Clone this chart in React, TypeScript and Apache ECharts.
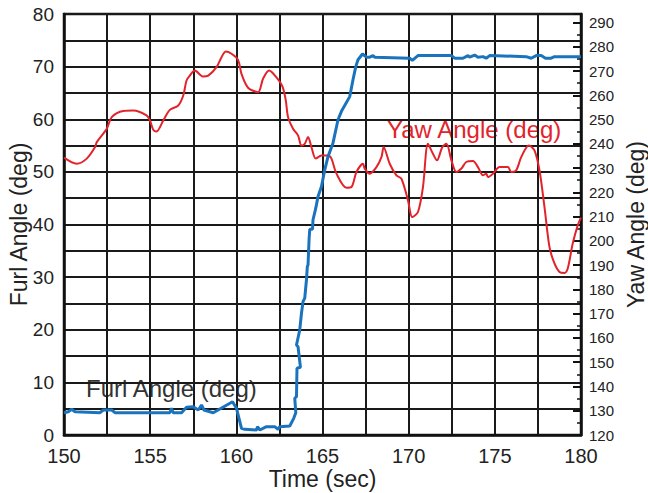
import React, { useEffect, useRef } from "react";
import * as echarts from "echarts";

const yawTime = [150.0, 150.74, 151.32, 151.8, 151.9, 152.48, 152.77, 153.44, 154.02, 154.79, 154.99, 155.18, 155.37, 155.76, 156.14, 156.63, 156.92, 157.11, 157.3, 157.59, 158.08, 158.37, 158.85, 159.14, 159.39, 159.72, 160.1, 160.3, 160.68, 161.26, 161.55, 161.9, 162.33, 162.68, 162.87, 163.0, 163.29, 163.58, 163.78, 163.97, 164.16, 164.36, 164.61, 164.94, 165.32, 165.52, 165.81, 166.39, 166.68, 166.97, 167.35, 167.45, 167.74, 168.13, 168.42, 168.55, 168.9, 169.29, 169.58, 169.96, 170.21, 170.54, 170.83, 171.12, 171.41, 171.64, 171.95, 172.19, 172.48, 172.77, 173.06, 173.34, 173.73, 174.02, 174.31, 174.5, 174.6, 174.89, 175.28, 175.76, 175.95, 176.24, 176.53, 176.97, 177.3, 177.59, 177.88, 178.17, 178.46, 178.75, 179.04, 179.23, 179.52, 179.81, 180.0];
const yawDeg = [234.3, 231.8, 233.9, 238.6, 240.7, 246.2, 251.0, 253.5, 253.7, 251.7, 249.6, 245.8, 245.1, 249.6, 254.0, 255.8, 259.9, 266.1, 268.1, 270.2, 267.7, 268.1, 271.6, 275.7, 278.0, 277.1, 274.6, 268.8, 263.1, 261.3, 266.8, 270.2, 267.4, 263.6, 257.9, 251.0, 246.2, 243.5, 239.3, 240.0, 242.8, 238.6, 233.9, 235.2, 235.2, 233.9, 227.7, 221.9, 222.2, 228.4, 231.8, 229.8, 227.7, 230.4, 234.5, 238.6, 231.8, 227.0, 225.6, 216.7, 209.8, 211.9, 222.2, 240.0, 235.9, 233.2, 238.6, 240.0, 233.2, 228.4, 229.8, 232.5, 232.9, 230.4, 227.0, 227.7, 226.3, 227.7, 230.4, 230.4, 228.4, 229.1, 234.5, 239.3, 237.3, 229.1, 214.0, 197.5, 190.7, 187.2, 186.8, 188.6, 198.9, 206.4, 209.6];

const furlTime = [150.0, 150.25, 150.45, 150.64, 152.09, 152.28, 152.77, 152.96, 156.14, 156.24, 156.34, 156.82, 157.11, 157.5, 157.79, 157.98, 158.12, 158.66, 159.78, 160.01, 160.3, 160.49, 161.17, 161.23, 161.36, 161.75, 162.23, 162.42, 162.52, 163.1, 163.33, 163.45, 163.39, 163.49, 163.52, 163.72, 163.58, 163.49, 163.68, 163.78, 163.87, 163.97, 164.07, 164.12, 164.16, 164.22, 164.26, 164.42, 164.45, 164.61, 164.74, 164.94, 165.13, 165.32, 165.61, 165.9, 166.1, 166.58, 166.77, 166.93, 167.06, 167.32, 167.55, 167.74, 167.93, 168.03, 170.06, 170.21, 170.54, 172.48, 172.67, 173.15, 173.44, 173.54, 173.83, 174.02, 174.31, 174.5, 174.7, 176.82, 177.11, 177.4, 177.69, 177.94, 178.27, 178.46, 180.0];
const furlDeg = [4.24, 4.43, 4.89, 4.43, 4.24, 4.75, 4.75, 4.24, 4.24, 5.08, 4.24, 4.24, 5.27, 5.38, 4.75, 5.7, 4.75, 4.24, 6.33, 5.08, 1.27, 1.08, 0.95, 1.58, 0.95, 1.58, 1.58, 1.08, 1.58, 1.71, 3.17, 4.24, 6.98, 7.28, 12.68, 12.87, 16.79, 17.11, 19.96, 23.14, 25.34, 26.0, 29.5, 32.0, 32.3, 37.1, 39.1, 39.1, 40.9, 43.1, 45.3, 47.2, 50.4, 52.9, 55.5, 59.9, 61.5, 64.3, 67.5, 70.0, 71.3, 72.4, 71.8, 71.8, 72.1, 71.8, 71.6, 71.2, 72.1, 72.1, 71.6, 71.6, 72.1, 71.8, 72.2, 71.8, 71.9, 71.6, 72.1, 71.9, 71.6, 72.1, 72.1, 71.6, 71.6, 71.9, 71.9];

const FONT = "'Liberation Sans', Arial, Helvetica, sans-serif";

export default function App() {
  const ref = useRef<HTMLDivElement>(null);
  useEffect(() => {
    if (!ref.current) return;
    const chart = echarts.init(ref.current, null, { renderer: "svg" });
    const gridLine = { color: "#1a1a1a", width: 2 };
    chart.setOption({
      animation: false,
      backgroundColor: "#ffffff",
      textStyle: { fontFamily: FONT },
      grid: {
        left: 64,
        right: 67,
        top: 14,
        bottom: 58,
        outerBoundsMode: "none",
        containLabel: false,
        show: true,
        borderColor: "#111",
        borderWidth: 2.5,
      },
      xAxis: {
        type: "value",
        min: 150,
        max: 180,
        interval: 2.5,
        name: "Time (sec)",
        nameLocation: "middle",
        nameGap: 32,
        nameMoveOverlap: false,
        nameTextStyle: { fontSize: 23, color: "#222", fontFamily: FONT },
        axisLine: { show: true, lineStyle: { color: "#111", width: 2.5 } },
        axisTick: { show: false },
        splitLine: { show: true, lineStyle: gridLine },
        axisLabel: {
          fontSize: 20,
          color: "#222",
          margin: 11,
          fontFamily: FONT,
          formatter: (v: number) => (v % 5 === 0 ? String(v) : ""),
        },
      },
      yAxis: [
        {
          type: "value",
          min: 0,
          max: 80,
          interval: 5,
          name: "Furl Angle (deg)",
          nameLocation: "middle",
          nameGap: 34,
          nameRotate: 90,
          nameMoveOverlap: false,
          nameTextStyle: { fontSize: 23, color: "#222", fontFamily: FONT },
          axisLine: { show: true, lineStyle: { color: "#111", width: 2.5 } },
          axisTick: { show: false },
          splitLine: { show: true, lineStyle: gridLine },
          axisLabel: {
            fontSize: 19,
            color: "#222",
            margin: 10,
            fontFamily: FONT,
            formatter: (v: number) => (v % 10 === 0 ? String(v) : ""),
          },
        },
        {
          type: "value",
          position: "right",
          min: 120,
          max: 293.5,
          interval: 10,
          name: "Yaw Angle (deg)",
          nameLocation: "middle",
          nameGap: 43,
          nameRotate: 90,
          nameMoveOverlap: false,
          nameTextStyle: { fontSize: 23, color: "#222", fontFamily: FONT },
          axisLine: { show: true, lineStyle: { color: "#111", width: 2.5 } },
          axisTick: { show: true, inside: true, length: 8, lineStyle: { color: "#111", width: 2 } },
          minorTick: { show: true, splitNumber: 2, length: 4, lineStyle: { color: "#111", width: 1.5 } },
          splitLine: { show: false },
          axisLabel: {
            fontSize: 15,
            color: "#222",
            margin: 8,
            fontFamily: FONT,
            formatter: (v: number) => (v % 10 === 0 ? String(v) : ""),
          },
        },
      ],
      series: [
        {
          name: "Yaw Angle (deg)",
          type: "line",
          yAxisIndex: 1,
          showSymbol: false,
          smooth: 0.3,
          lineStyle: { color: "#e3232b", width: 2 },
          data: yawTime.map((t, i) => [t, yawDeg[i]]),
        },
        {
          name: "Furl Angle (deg)",
          type: "line",
          yAxisIndex: 0,
          showSymbol: false,
          lineStyle: { color: "#1a73bd", width: 3 },
          data: furlTime.map((t, i) => [t, furlDeg[i]]),
        },
      ],
      graphic: [
        {
          type: "text",
          left: 387,
          top: 117,
          style: { text: "Yaw Angle (deg)", fill: "#e3232b", font: `24px ${FONT}` },
        },
        {
          type: "text",
          left: 86,
          top: 376,
          style: { text: "Furl Angle (deg)", fill: "#333", font: `24px ${FONT}` },
        },
      ],
    });
    return () => chart.dispose();
  }, []);
  return (
    <div
      ref={ref}
      style={{ position: "fixed", left: 0, top: 0, width: 648, height: 493 }}
    />
  );
}
